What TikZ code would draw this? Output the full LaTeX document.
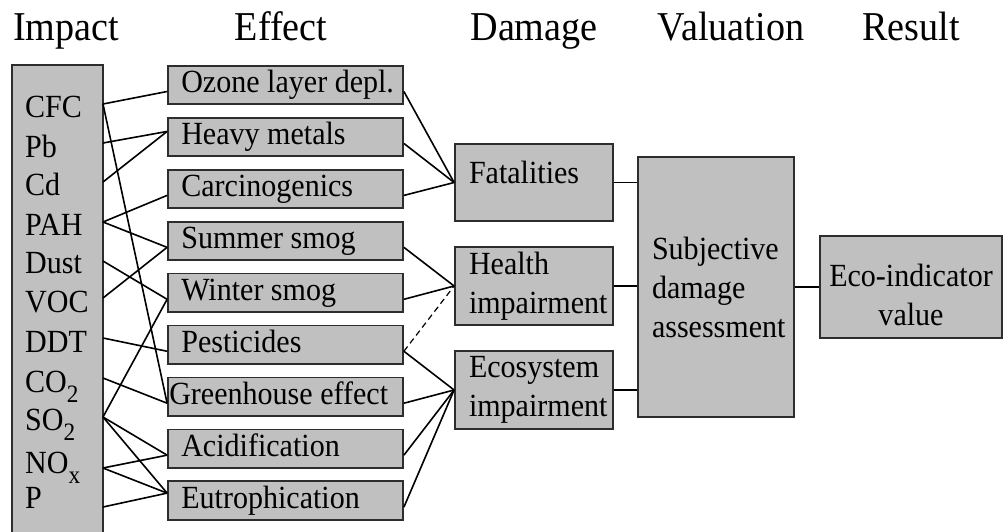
\documentclass[tikz,border=0pt]{standalone}
\usepackage{fontspec}
\setmainfont{Liberation Serif}[FakeStretch=0.93]
\definecolor{boxgray}{RGB}{192,192,192}
\definecolor{edgegray}{RGB}{45,45,45}
\newcommand{\lowsub}[1]{\raisebox{-0.34em}{\fontsize{25}{25}\selectfont #1}}
\begin{document}
\begin{tikzpicture}[x=1pt,y=-1pt,
		box/.style={draw=edgegray,fill=boxgray,line width=1.8pt,rectangle},
		effbox/.style={box,minimum width=235pt,minimum height=38.5pt},
		efftext/.style={anchor=west,text height=22.6pt,text depth=7pt},
		dambox/.style={box,minimum height=77.5pt,text width=130pt,inner xsep=14pt,align=left},
		wire/.style={black,line width=1.6pt},
		head/.style={font=\fontsize{41}{43}\selectfont,anchor=base}]
			\tikzstyle{every node}+=[inner sep=0pt,font=\fontsize{32.3}{39}\selectfont]
			\useasboundingbox (0,0) rectangle (1003,531);
			\node [head,anchor=base west] (himpact) at (13,40) {Impact};
			\node [head] (heffect) at (281,40) {Effect};
			\node [head] (hdamage) at (534,40) {Damage};
			\node [head] (hvaluation) at (731,40) {Valuation};
			\node [head] (hresult) at (911,40) {Result};
			\node [box,minimum width=91pt,minimum height=475pt] (imp) at (57.5,302.5) {};
			\foreach \n/\t/\b/\c in {cfc/CFC/117/104, pb/Pb/157/143, cd/Cd/195/182, pah/PAH/235/222, dust/Dust/273/261, voc/VOC/312/298, ddt/DDT/352/338, co2/CO\lowsub{2}/392/378, so2/SO\lowsub{2}/430/417, nox/NO\lowsub{x}/473/468, p/P/508/507} {
				\node [anchor=base west] (\n) at (25,\b) {\t};
				\coordinate (\n-o) at (103,\c);
			}
			\foreach \n/\t/\s [count=\i from 0] in {ozone/Ozone layer depl./14, heavy/Heavy metals/14, carc/Carcinogenics/14, summer/Summer smog/14, winter/Winter smog/14, pest/Pesticides/14, green/Greenhouse effect/2, acid/Acidification/14, eutro/Eutrophication/14} {
				\node [effbox] (\n) at (285.5,{85+51.95*\i}) {};
				\node [efftext] (\n-t) at ([xshift=\s pt]\n.west) {\t};
				\coordinate (\n-in) at ([yshift=-6.5pt]\n.west);
				\coordinate (\n-out) at ([yshift=-6.5pt]\n.east);
			}
			\coordinate (heavy-in) at ([yshift=5.5pt]heavy.west);
			\coordinate (eutro-in) at ([yshift=7.5pt]eutro.west);
			\node [dambox,text depth=21pt] (fat) at (534,182.5) {Fatalities};
			\node [dambox] (health) at (534,286) {Health\\impairment};
			\node [dambox] (eco) at (534,390) {Ecosystem\\impairment};
			\node [box,minimum height=260pt,text width=128pt,inner xsep=14pt,align=left] (val) at (716,287) {Subjective\\damage\\assessment};
			\node [box,minimum height=102pt,text width=172pt,inner xsep=5pt,align=center,text height=38pt] (res) at (911,287) {Eco-indicator\\value};
			\foreach \a/\b in {cfc/ozone, cfc/green, pb/heavy, cd/heavy, pah/carc, pah/summer, dust/winter, voc/summer, ddt/pest, co2/green, so2/winter, so2/acid, so2/eutro, nox/acid, nox/eutro, p/eutro}
				\draw [wire] (\a-o) -- (\b-in);
			\foreach \a/\b in {ozone/fat, heavy/fat, carc/fat, summer/health, winter/health, pest/eco, green/eco, acid/eco, eutro/eco}
				\draw [wire] (\a-out) -- (\b.west);
			\draw [wire,dash pattern=on 6pt off 4pt,line width=1.2pt] (pest-out) -- (health.west);
			\foreach \a in {fat,health,eco}
				\draw [wire] (\a.east) -- (\a.east -| val.west);
			\draw [wire] (val.east) -- (res.west);
		\end{tikzpicture}
\end{document}
